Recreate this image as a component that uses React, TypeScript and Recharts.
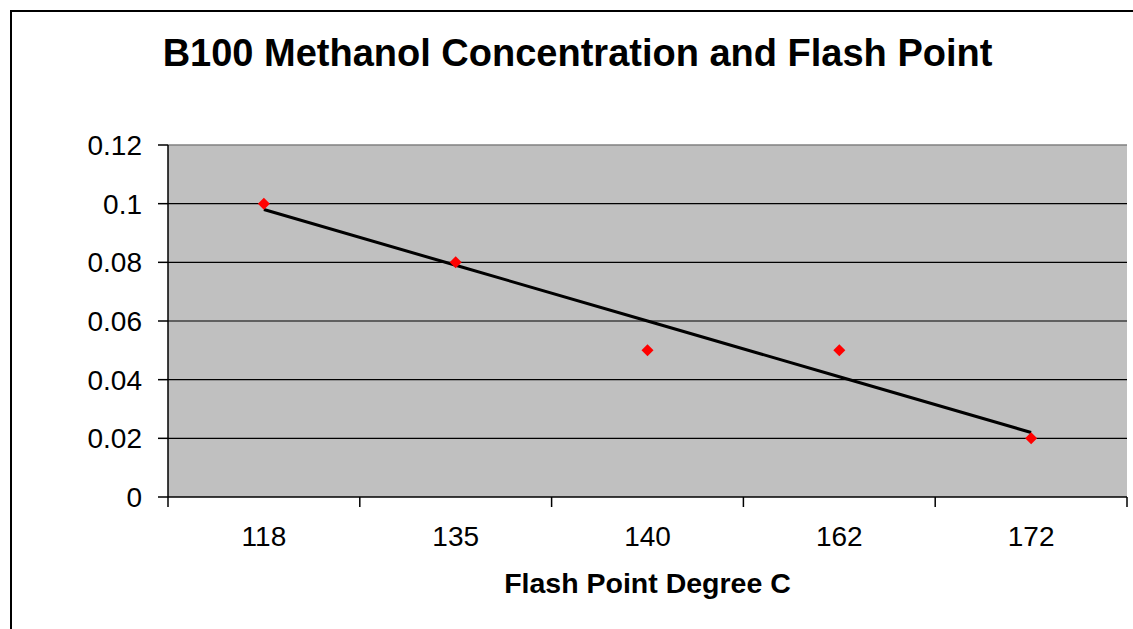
import {
  ComposedChart,
  Line,
  XAxis,
  YAxis,
  CartesianGrid,
  ReferenceLine,
} from 'recharts';

const flashPoints = ['118', '135', '140', '162', '172'];
const methanol = [0.1, 0.08, 0.05, 0.05, 0.02];
// linear trendline
const trend = [0.098, 0.079, 0.06, 0.041, 0.022];
const yTicks = [0, 0.02, 0.04, 0.06, 0.08, 0.1, 0.12];
const gridValues = [0.02, 0.04, 0.06, 0.08, 0.1];

const chartData = flashPoints.map((fp, i) => ({
  flash: fp,
  methanol: methanol[i],
  trend: trend[i],
}));

const FONT = '"Liberation Sans", Arial, sans-serif';

function Diamond(props: any) {
  const { cx, cy } = props;
  if (cx == null || cy == null) return null;
  const r = 6;
  return (
    <polygon
      points={`${cx},${cy - r} ${cx + r},${cy} ${cx},${cy + r} ${cx - r},${cy}`}
      fill="#ff0000"
      stroke="none"
    />
  );
}

function CategoryTick(props: any) {
  const { x, y, payload, index, visibleTicksCount } = props;
  const half = payload?.offset ?? 0;
  const isLast = index === visibleTicksCount - 1;
  return (
    <g>
      <line x1={x - half} y1={y - 10} x2={x - half} y2={y} stroke="#000" strokeWidth={1.5} />
      {isLast && <line x1={x + half} y1={y - 10} x2={x + half} y2={y} stroke="#000" strokeWidth={1.5} />}
      <text x={x} y={y + 39} textAnchor="middle" fill="#000" fontSize={28} fontFamily={FONT}>
        {payload.value}
      </text>
    </g>
  );
}

export default function App() {
  return (
    <div
      style={{
        position: 'absolute',
        left: 0,
        top: 0,
        width: 1133,
        height: 629,
        background: '#fff',
        overflow: 'hidden',
      }}
    >
      <div
        style={{
          position: 'absolute',
          left: 10,
          top: 10,
          width: 1200,
          height: 700,
          border: '2px solid #000',
        }}
      />
      <div
        style={{
          position: 'absolute',
          left: 0,
          width: 1155,
          top: 29,
          textAlign: 'center',
          fontFamily: FONT,
          fontWeight: 'bold',
          fontSize: 38,
          lineHeight: '48px',
          color: '#000',
        }}
      >
        B100 Methanol Concentration and Flash Point
      </div>
      <div style={{ position: 'absolute', left: 0, top: 0 }}>
        <ComposedChart
          width={1133}
          height={629}
          data={chartData}
          margin={{ top: 145, right: 6, bottom: 0, left: 108 }}
        >
          <CartesianGrid
            vertical={false}
            fill="#c0c0c0"
            stroke="#000"
            strokeWidth={1.2}
            horizontalValues={gridValues}
          />
          <ReferenceLine y={0.12} stroke="#808080" strokeWidth={1.5} />
          <XAxis
            dataKey="flash"
            scale="band"
            height={132}
            tickSize={10}
            tickMargin={0}
            tickLine={false}
            axisLine={{ stroke: '#000', strokeWidth: 1.5 }}
            tick={<CategoryTick />}
            interval={0}
            label={{
              value: 'Flash Point Degree C',
              position: 'insideBottom',
              offset: 36,
              style: { fontFamily: FONT, fontWeight: 'bold', fontSize: 28.5, fill: '#000' },
            }}
          />
          <YAxis
            width={60}
            domain={[0, 0.12]}
            ticks={yTicks}
            interval={0}
            tickSize={10}
            tickMargin={16}
            axisLine={{ stroke: '#000', strokeWidth: 1.5 }}
            tickLine={{ stroke: '#000', strokeWidth: 1.5 }}
            tick={{ fill: '#000', fontSize: 28, fontFamily: FONT }}
          />
          <YAxis
            yAxisId="edge"
            orientation="right"
            width={0}
            tick={false}
            tickLine={false}
            axisLine={{ stroke: '#808080', strokeWidth: 1.5 }}
          />
          <Line
            dataKey="trend"
            stroke="#000"
            strokeWidth={3}
            dot={false}
            activeDot={false}
            isAnimationActive={false}
          />
          <Line
            dataKey="methanol"
            stroke="none"
            dot={<Diamond />}
            activeDot={false}
            isAnimationActive={false}
          />
        </ComposedChart>
      </div>
    </div>
  );
}
